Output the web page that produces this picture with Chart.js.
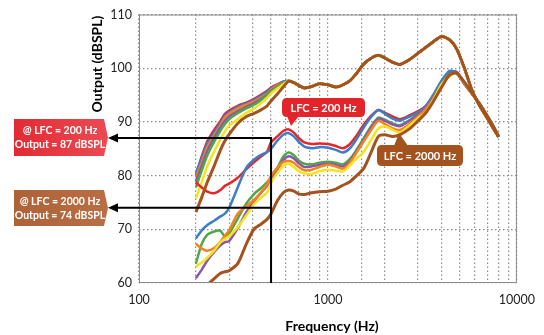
<!DOCTYPE html>
<html>
<head>
<meta charset="utf-8">
<script src="https://cdn.jsdelivr.net/npm/chart.js@4.4.0/dist/chart.umd.min.js"></script>
<style>
  html, body { margin: 0; padding: 0; background: #fff; }
</style>
</head>
<body>
<canvas id="freqChart" width="544" height="335"></canvas>
<script>
// frequency points (Hz) shared by all curves
const freqs = [200, 215, 230, 250, 270, 285, 300, 333, 370, 407, 440, 477, 500, 540, 580,
  620, 660, 700, 750, 820, 900, 1000, 1100, 1200, 1300, 1400, 1550, 1700, 1850, 2000,
  2200, 2400, 2700, 3000, 3300, 3600, 4000, 4400, 4800, 5300, 5800, 6400, 7000, 7500, 8000];

// upper bundle: separate below ~600 Hz, then one common curve
const upperBlueHead = [80.5, 83.3, 86, 88, 89.8, 91.2, 91.8, 92.8, 93.4, 94.1, 94.8, 95.6, 96.2, 96.9, 97.5];
const upperRedHead = [80, 83.6, 86.4, 88.5, 90.2, 91.5, 92.1, 93, 93.6, 94.3, 95, 95.8, 96.4, 97, 97.5];
const upperOrangeHead = [79.6, 82.5, 85.3, 87.5, 89.4, 90.8, 91.5, 92.5, 93.2, 93.8, 94.5, 95.3, 96, 96.8, 97.3];
const upperPurpleHead = [78.8, 81.8, 84.6, 87, 89, 90.2, 91, 92, 92.8, 93.5, 94.2, 95.1, 95.8, 96.6, 97.2];
const upperGreenHead = [77.8, 81, 83.8, 86.3, 88.4, 89.6, 90.5, 91.6, 92.5, 93.2, 94, 95, 95.7, 96.5, 97.2];
const upperYellowHead = [75.7, 78.8, 81.8, 84.5, 86.8, 88.2, 89.3, 90.5, 91.7, 92.5, 93.4, 94.5, 95.3, 96.2, 97];
const upperBrownHead = [73.2, 76, 78.8, 81.8, 84.8, 86.5, 87.7, 89.7, 91, 91.6, 92.2, 93, 93.9, 95.2, 96.5];
const upperTail = [97.6, 97.3, 96.8, 96.3, 96.6, 97.1, 96.9, 96.5, 96.9, 97.6, 98.8, 100.8, 101.9, 102.4, 101.9,
  101.1, 100.7, 101.6, 102.8, 103.9, 104.9, 105.9, 105.3, 103.6, 99.8, 95.8, 92.8, 90.6, 88.8, 87.2];

// middle bundle
const midRed = [78.7, 77.8, 77, 76.7, 77.3, 78.1, 78.5, 79.6, 81.2, 82.5, 83.5, 84.5, 86.2, 87.3, 88.3,
  88.6, 88, 87, 86.2, 85.9, 86, 85.9, 85.5, 85.1, 85.8, 87.2, 89.5, 91.2, 92.2, 91.7,
  91, 90.5, 91.2, 92, 93, 94.8, 97.5, 99.3, 99.3, 97, 95.2, 93.2, 91, 89.2, 87.3];
const midBlue = [68.3, 69.8, 70.8, 71.6, 72.4, 72.9, 74, 77.8, 81.5, 83, 83.8, 84.4, 85, 86.5, 87.6,
  87.9, 87.3, 86.3, 85.4, 85.1, 85.3, 85.2, 84.8, 84.3, 85, 86.5, 89, 91, 92.2, 91.5,
  90.6, 90.2, 91, 91.8, 93, 95, 97.7, 99.5, 99.2, 97, 95.2, 93.2, 91, 89.2, 87.3];
const midGreen = [63.6, 67.3, 69, 69.6, 69.7, 68.6, 69.2, 72, 74.8, 76.6, 77.6, 78.8, 79.7, 81.5, 83.5,
  84.3, 83.8, 82.8, 82.2, 82.1, 82.4, 82.6, 82.4, 82.1, 83, 84.5, 87, 89.3, 90.8, 90.4,
  89.7, 89.4, 90.3, 91.5, 92.6, 94.6, 97.2, 98.9, 99, 97, 95.2, 93.2, 91, 89.2, 87.3];
const midPurple = [60.9, 62.5, 64.2, 65.8, 67, 67.6, 67.8, 70.2, 73.2, 75.3, 76.7, 78.1, 79.2, 81, 82.9,
  83.6, 83.2, 82.3, 81.6, 81.7, 82, 82.2, 82, 81.7, 82.6, 84.2, 86.7, 89, 90.6, 90.2,
  89.5, 89.2, 90.2, 91.4, 92.6, 94.4, 97, 98.8, 99, 97, 95.2, 93.2, 91, 89.2, 87.3];
const midOrange = [67.3, 66.4, 66, 66.5, 67.7, 68.8, 69.8, 72.9, 74.3, 75.5, 76.8, 78.4, 80, 81.5, 82.5,
  82.7, 82.4, 81.6, 81, 81.1, 81.6, 82, 81.7, 81.3, 82.3, 84, 86.4, 88.6, 90.2, 89.6,
  88.8, 88.5, 89.6, 91, 92.4, 94.2, 96.8, 98.8, 99, 97.2, 95.2, 93.2, 91, 89.2, 87.3];
const midYellow = [63.1, 63.8, 64.7, 66, 67.6, 68.2, 68.7, 70.4, 72.6, 74.7, 75.8, 76.9, 78.7, 80.5, 81.8,
  82.2, 81.6, 80.8, 80.4, 80.3, 80.8, 81.1, 80.9, 80.8, 81.8, 83, 84.5, 86.8, 88.8, 89.2,
  88.5, 88, 89.3, 90.7, 91.8, 94, 97, 98.5, 99, 97.2, 95.2, 93.2, 91, 89.2, 87.3];
// LFC = 2000 Hz curve
const lowBrown = [56.5, 58, 59.6, 60.8, 61.8, 62.1, 62.3, 63.6, 67.3, 70.1, 70.9, 71.9, 72.9, 75.3, 76.8,
  77.3, 77.1, 76.6, 76.5, 76.8, 77, 77.1, 77.5, 78.2, 78.8, 79.8, 81.4, 84.5, 87.3, 87.6,
  87.3, 87.6, 88.7, 90.2, 91.7, 93.7, 96.5, 98.7, 99.1, 97.3, 95.3, 93.2, 91, 89.2, 87.3];

const xTickLabels = [100, 1000, 10000];
const markerFreq = 500;
const markerLevels = [87, 74];

const COL = {
  blue: '#3b7dc8', red: '#e5262b', green: '#4fa748', purple: '#8c57a8',
  orange: '#f58220', yellow: '#f5e41c', brown: '#a4531f'
};

function toPoints(values) {
  return freqs.map((f, i) => ({ x: f, y: values[i] }));
}

function line(values, color, width) {
  return {
    data: toPoints(values),
    borderColor: color,
    borderWidth: width || 2.5,
    pointRadius: 0,
    tension: 0.25,
    fill: false
  };
}

// index 0 is drawn on top
const datasets = [
  line(lowBrown, COL.brown, 3),
  line(upperBrownHead.concat(upperTail), COL.brown, 3),
  line(midYellow, COL.yellow),
  line(midOrange, COL.orange),
  line(midPurple, COL.purple),
  line(midGreen, COL.green),
  line(midBlue, COL.blue),
  line(midRed, COL.red),
  line(upperYellowHead.concat(upperTail), COL.yellow),
  line(upperGreenHead.concat(upperTail), COL.green),
  line(upperPurpleHead.concat(upperTail), COL.purple),
  line(upperOrangeHead.concat(upperTail), COL.orange),
  line(upperBlueHead.concat(upperTail), COL.blue),
  line(upperRedHead.concat(upperTail), COL.red)
];

function roundRect(ctx, x, y, w, h, r) {
  ctx.beginPath();
  ctx.moveTo(x + r, y);
  ctx.lineTo(x + w - r, y);
  ctx.quadraticCurveTo(x + w, y, x + w, y + r);
  ctx.lineTo(x + w, y + h - r);
  ctx.quadraticCurveTo(x + w, y + h, x + w - r, y + h);
  ctx.lineTo(x + r, y + h);
  ctx.quadraticCurveTo(x, y + h, x, y + h - r);
  ctx.lineTo(x, y + r);
  ctx.quadraticCurveTo(x, y, x + r, y);
  ctx.closePath();
}

// the pentagon shaped labels on the left
function sideLabel(ctx, top, bottom, c1, c2, lines) {
  const g = ctx.createLinearGradient(14, 0, 108, 0);
  g.addColorStop(0, c1);
  g.addColorStop(1, c2);
  ctx.fillStyle = g;
  ctx.beginPath();
  ctx.moveTo(14, top);
  ctx.lineTo(104, top);
  ctx.lineTo(108, (top + bottom) / 2);
  ctx.lineTo(104, bottom);
  ctx.lineTo(14, bottom);
  ctx.closePath();
  ctx.fill();
  ctx.fillStyle = '#fff';
  ctx.font = 'bold 10.5px Lato';
  ctx.textAlign = 'center';
  ctx.textBaseline = 'middle';
  const mid = (top + bottom) / 2;
  ctx.fillText(lines[0], 60, mid - 6.5);
  ctx.fillText(lines[1], 60, mid + 7.5);
}

const overlay = {
  id: 'overlay',
  afterDatasetsDraw(chart) {
    const { ctx, chartArea: a, scales: { x, y } } = chart;
    ctx.save();

    // frame round the plot
    ctx.strokeStyle = '#8a8a8a';
    ctx.lineWidth = 1;
    ctx.strokeRect(a.left + 0.5, a.top + 0.5, a.right - a.left - 1, a.bottom - a.top - 1);

    // LFC marker lines
    const xm = x.getPixelForValue(markerFreq);
    const yHi = y.getPixelForValue(markerLevels[0]);
    const yLo = y.getPixelForValue(markerLevels[1]);
    ctx.strokeStyle = '#000';
    ctx.lineWidth = 2;
    ctx.beginPath();
    ctx.moveTo(xm, yHi - 1);
    ctx.lineTo(xm, a.bottom);
    ctx.moveTo(xm, yHi);
    ctx.lineTo(116, yHi);
    ctx.moveTo(xm, yLo);
    ctx.lineTo(116, yLo);
    ctx.stroke();
    ctx.fillStyle = '#000';
    [yHi, yLo].forEach((yy) => {
      ctx.beginPath();
      ctx.moveTo(108, yy);
      ctx.lineTo(118, yy - 4.5);
      ctx.lineTo(118, yy + 4.5);
      ctx.closePath();
      ctx.fill();
    });

    // callout LFC = 200 Hz
    ctx.fillStyle = '#e3242b';
    roundRect(ctx, 282, 98, 83, 19, 5);
    ctx.fill();
    ctx.beginPath();
    ctx.moveTo(287, 116);
    ctx.lineTo(299, 116);
    ctx.lineTo(291, 126);
    ctx.closePath();
    ctx.fill();

    // callout LFC = 2000 Hz
    ctx.fillStyle = '#a4531f';
    roundRect(ctx, 377, 145, 86, 21, 5);
    ctx.fill();
    ctx.beginPath();
    ctx.moveTo(394, 146);
    ctx.lineTo(408, 146);
    ctx.lineTo(399, 133);
    ctx.closePath();
    ctx.fill();

    ctx.fillStyle = '#fff';
    ctx.font = 'bold 11px Lato';
    ctx.textAlign = 'center';
    ctx.textBaseline = 'middle';
    ctx.fillText('LFC = 200 Hz', 323.5, 108);
    ctx.fillText('LFC = 2000 Hz', 420, 156);

    sideLabel(ctx, 119, 156, '#e32a33', '#ec4a52', ['@ LFC = 200 Hz', 'Output = 87 dBSPL']);
    sideLabel(ctx, 190, 226, '#ad6237', '#b96f44', ['@ LFC = 2000 Hz', 'Output = 74 dBSPL']);

    // axis titles
    ctx.fillStyle = '#000';
    ctx.font = 'bold 14px Lato';
    ctx.fillText('Frequency (Hz)', 332, 326);
    ctx.translate(97, 64);
    ctx.rotate(-Math.PI / 2);
    ctx.fillText('Output (dBSPL)', 0, 0);
    ctx.restore();
  }
};

new Chart(document.getElementById('freqChart'), {
  type: 'line',
  data: { datasets: datasets },
  plugins: [overlay],
  options: {
    responsive: false,
    animation: false,
    layout: { padding: { top: 12, right: 19, left: 0, bottom: 0 } },
    plugins: { legend: { display: false }, tooltip: { enabled: false } },
    scales: {
      x: {
        type: 'logarithmic',
        min: 100,
        max: 10000,
        afterFit: (scale) => { scale.height = 52; },
        grid: { color: '#8c8c8c', lineWidth: 1.2, drawTicks: false },
        border: { display: false, dash: [1.5, 2.5] },
        ticks: {
          autoSkip: false,
          maxRotation: 0,
          padding: 9,
          color: '#222',
          font: { family: 'Lato', size: 12.5 },
          callback: (v) => (xTickLabels.includes(v) ? String(v) : '')
        }
      },
      y: {
        min: 60,
        max: 110,
        afterFit: (scale) => { scale.width = 139; },
        grid: { color: '#8c8c8c', lineWidth: 1.2, drawTicks: false },
        border: { display: false, dash: [1.5, 2.5] },
        ticks: {
          stepSize: 10,
          padding: 7,
          color: '#222',
          font: { family: 'Lato', size: 12.5 }
        }
      }
    }
  }
});
</script>
</body>
</html>
